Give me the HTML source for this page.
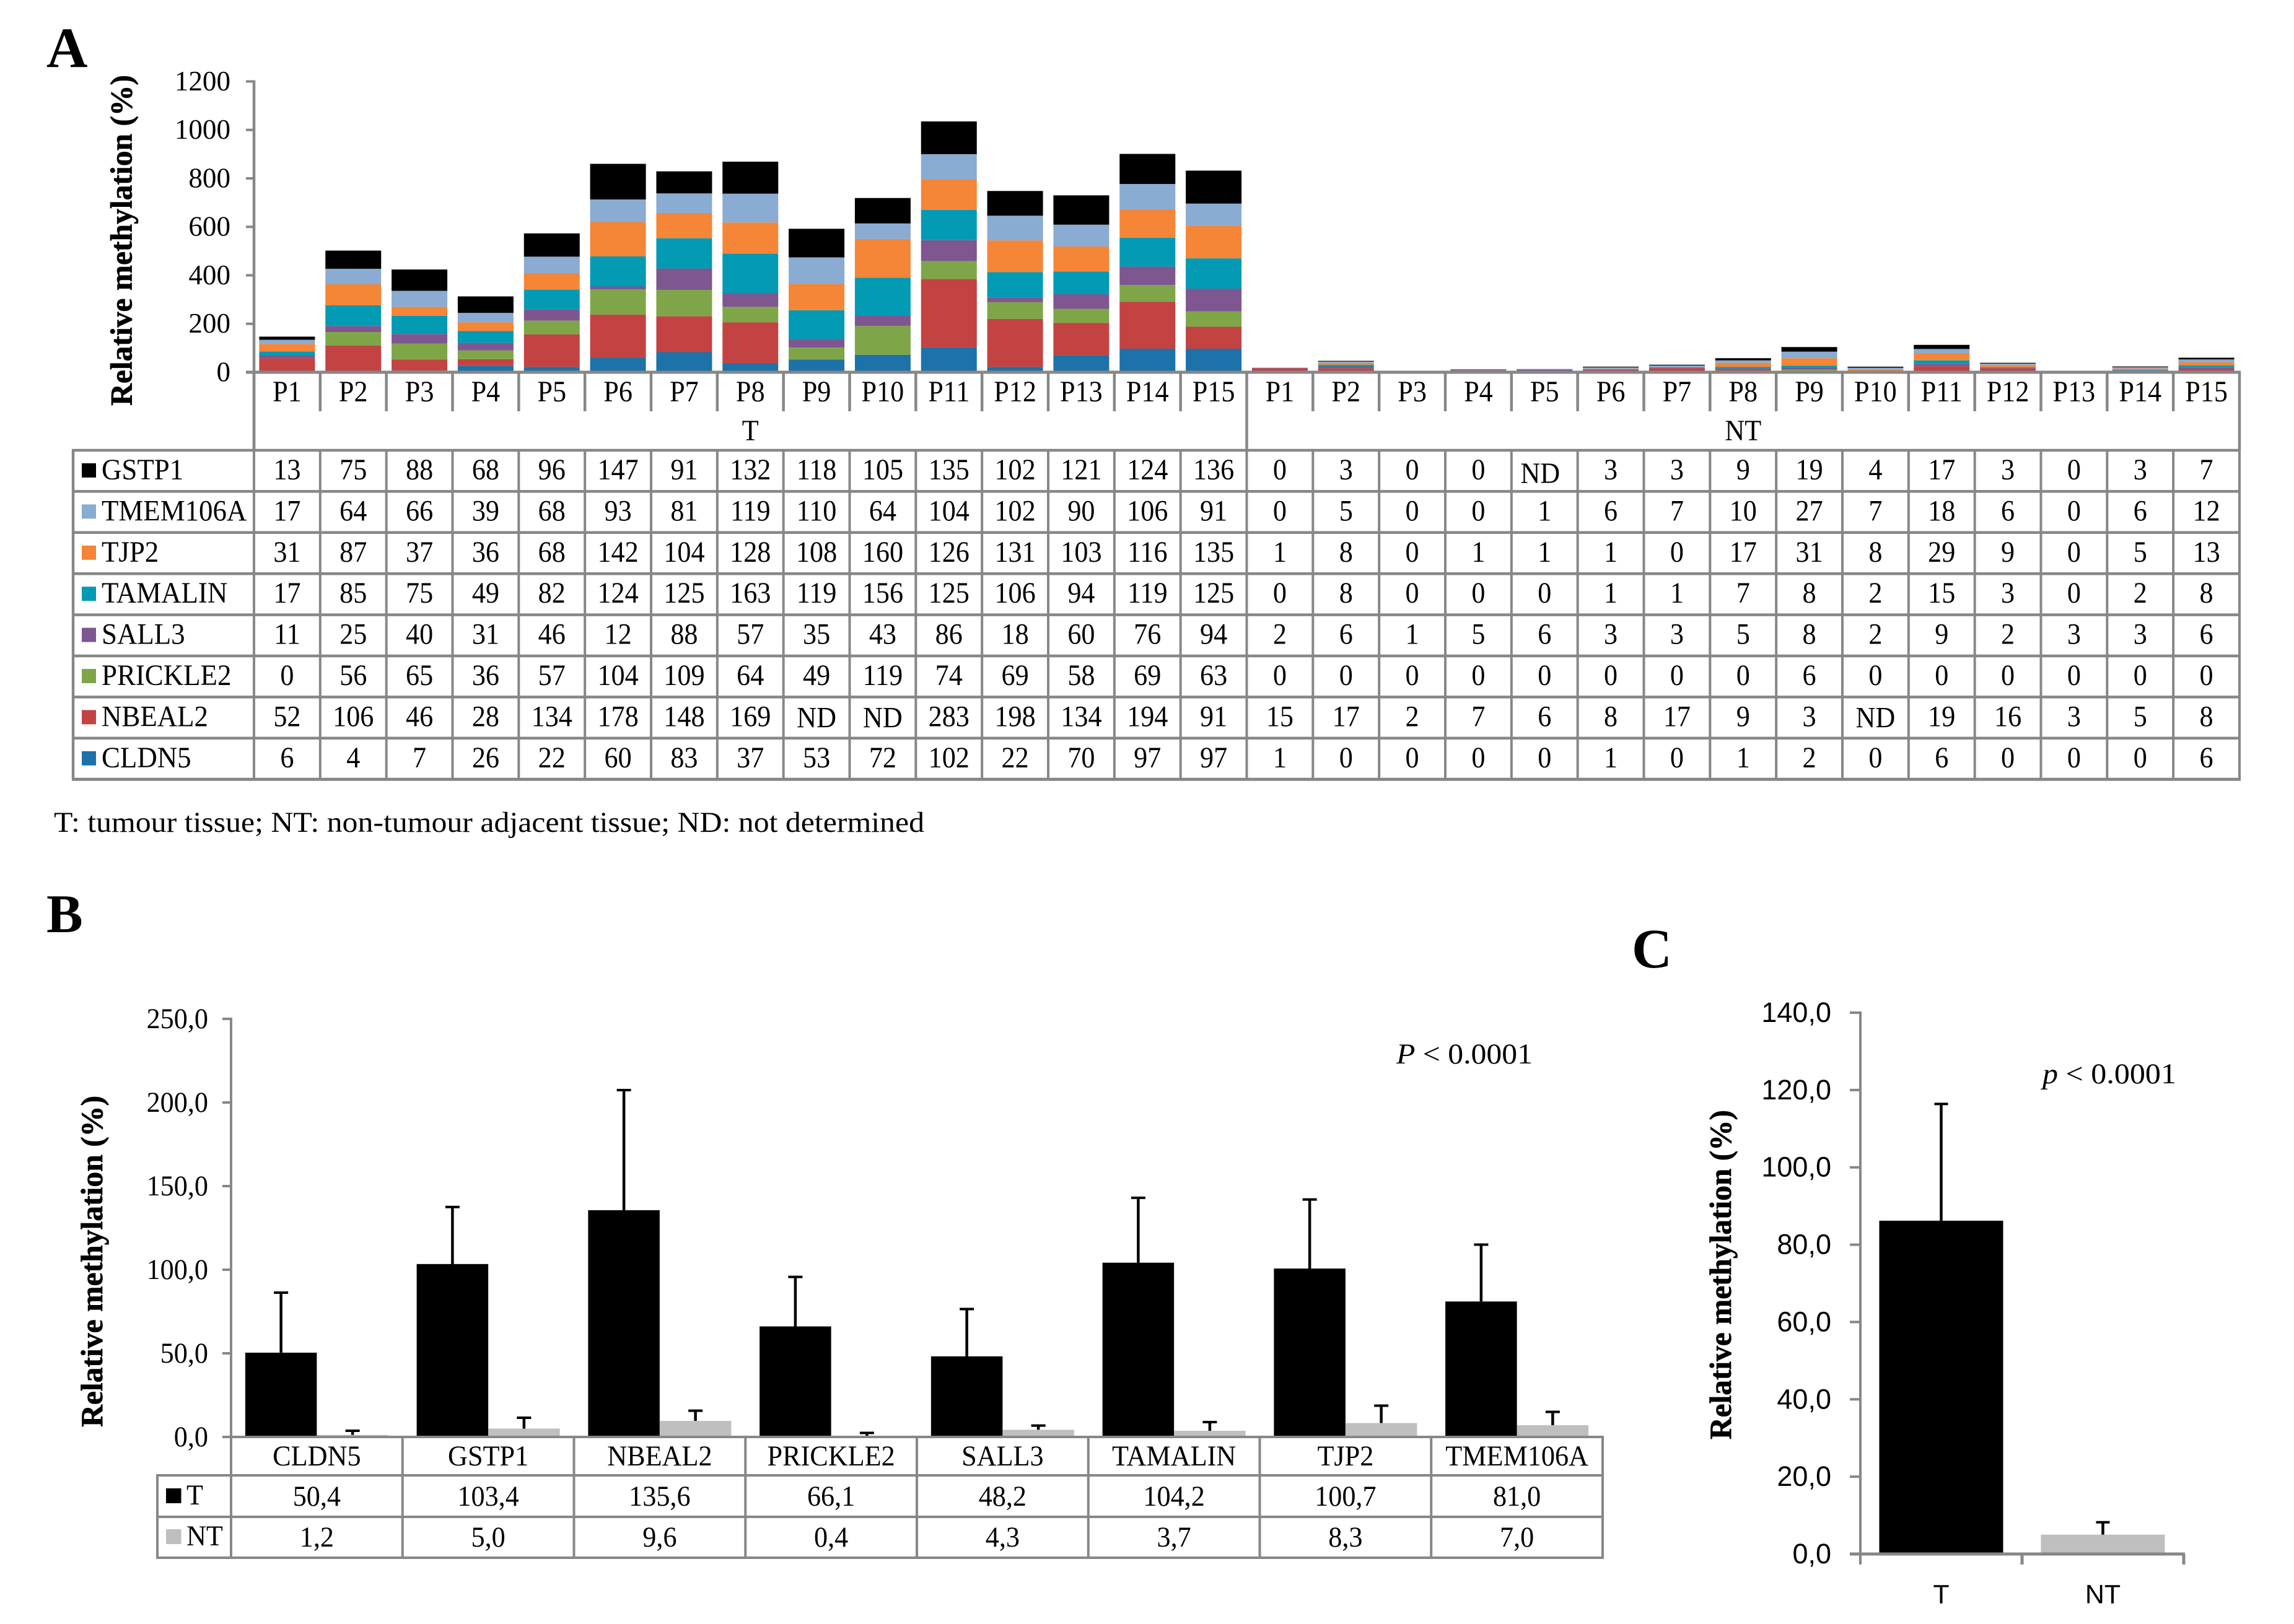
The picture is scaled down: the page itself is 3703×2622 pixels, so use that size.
<!DOCTYPE html>
<html lang="en">
<head>
<meta charset="utf-8">
<title>Relative methylation charts</title>
<style>
html,body{margin:0;padding:0;background:#fff;}
svg{display:block;}
text{font-family:"Liberation Serif",serif;fill:#000;}
.sans{font-family:"Liberation Sans",sans-serif;}
.title{stroke:#000;stroke-width:.7px;}
</style>
</head>
<body>
<svg id="figure" xmlns="http://www.w3.org/2000/svg" width="3703" height="2622" viewBox="0 0 3703 2622">
  <rect x="0" y="0" width="3703" height="2622" fill="#fff"/>
  <text x="75" y="108" font-size="92" font-weight="bold">A</text>
  <text x="75" y="1505" font-size="88" font-weight="bold">B</text>
  <text x="2634" y="1562" font-size="90" font-weight="bold">C</text>
  <text class="title" transform="translate(212.5,655) rotate(-90)" font-size="50" font-weight="bold" textLength="534" lengthAdjust="spacingAndGlyphs">Relative methylation (%)</text>
  <text class="title" transform="translate(165,2304) rotate(-90)" font-size="50" font-weight="bold" textLength="535" lengthAdjust="spacingAndGlyphs">Relative methylation (%)</text>
  <text class="title" transform="translate(2794,2324) rotate(-90)" font-size="50" font-weight="bold" textLength="532" lengthAdjust="spacingAndGlyphs">Relative methylation (%)</text>
  <text x="87" y="1343" font-size="47" textLength="1405" lengthAdjust="spacingAndGlyphs">T: tumour tissue; NT: non-tumour adjacent tissue; ND: not determined</text>
  <text x="2254" y="1717" font-size="47" textLength="220" lengthAdjust="spacingAndGlyphs"><tspan font-style="italic">P</tspan> &lt; 0.0001</text>
  <text x="3297" y="1749" font-size="47" textLength="216" lengthAdjust="spacingAndGlyphs"><tspan font-style="italic">p</tspan> &lt; 0.0001</text>
  <g id="panel-a"></g>
  <g id="panel-b"></g>
  <g id="panel-c"></g>
</svg>
<script>
// Panel A data (null = ND, not determined)
const patients = ['P1','P2','P3','P4','P5','P6','P7','P8','P9','P10','P11','P12','P13','P14','P15'];
const geneNames = ['GSTP1','TMEM106A','TJP2','TAMALIN','SALL3','PRICKLE2','NBEAL2','CLDN5'];
const geneColors = ['#000000','#8AABD2','#F58537','#039AB4','#7E5690','#7EA648','#C34343','#1C72A9'];
const gstp1Tumour = [13,75,88,68,96,147,91,132,118,105,135,102,121,124,136];
const gstp1Normal = [0,3,0,0,null,3,3,9,19,4,17,3,0,3,7];
const tmem106aTumour = [17,64,66,39,68,93,81,119,110,64,104,102,90,106,91];
const tmem106aNormal = [0,5,0,0,1,6,7,10,27,7,18,6,0,6,12];
const tjp2Tumour = [31,87,37,36,68,142,104,128,108,160,126,131,103,116,135];
const tjp2Normal = [1,8,0,1,1,1,0,17,31,8,29,9,0,5,13];
const tamalinTumour = [17,85,75,49,82,124,125,163,119,156,125,106,94,119,125];
const tamalinNormal = [0,8,0,0,0,1,1,7,8,2,15,3,0,2,8];
const sall3Tumour = [11,25,40,31,46,12,88,57,35,43,86,18,60,76,94];
const sall3Normal = [2,6,1,5,6,3,3,5,8,2,9,2,3,3,6];
const prickle2Tumour = [0,56,65,36,57,104,109,64,49,119,74,69,58,69,63];
const prickle2Normal = [0,0,0,0,0,0,0,0,6,0,0,0,0,0,0];
const nbeal2Tumour = [52,106,46,28,134,178,148,169,null,null,283,198,134,194,91];
const nbeal2Normal = [15,17,2,7,6,8,17,9,3,null,19,16,3,5,8];
const cldn5Tumour = [6,4,7,26,22,60,83,37,53,72,102,22,70,97,97];
const cldn5Normal = [1,0,0,0,0,1,0,1,2,0,6,0,0,0,6];
const panelATicks = [0,200,400,600,800,1000,1200];

// Panel B data
const panelBGenes = ['CLDN5','GSTP1','NBEAL2','PRICKLE2','SALL3','TAMALIN','TJP2','TMEM106A'];
const panelBTumour = [50.4,103.4,135.6,66.1,48.2,104.2,100.7,81.0];
const panelBNormal = [1.2,5.0,9.6,0.4,4.3,3.7,8.3,7.0];
const panelBTumourErr = [35.9,34.1,71.8,29.6,28.3,38.8,41.3,34.0];
const panelBNormalErr = [2.5,6.5,6.1,2.0,2.5,5.2,10.4,8.0];
const panelBTicks = [0,50,100,150,200,250];

// Panel C data
const panelCGroups = ['T','NT'];
const panelCMeans = [86.2,5.0];
const panelCErr = [30.2,3.2];
const panelCTicks = [0,20,40,60,80,100,120,140];

const NS = 'http://www.w3.org/2000/svg';
const AXIS = '#878787';
const GREY = '#BFBFBF';

function rect(parent, name, x, y, w, h, fill) {
  const el = document.createElementNS(NS, 'rect');
  
  
  el.setAttribute('x', x);
  el.setAttribute('y', y);
  el.setAttribute('width', w);
  el.setAttribute('height', h);
  el.setAttribute('fill', fill);
  parent.appendChild(el);
  return el;
}
function line(parent, name, x1, y1, x2, y2, width, color) {
  const el = document.createElementNS(NS, 'line');
  
  
  el.setAttribute('x1', x1);
  el.setAttribute('y1', y1);
  el.setAttribute('x2', x2);
  el.setAttribute('y2', y2);
  el.setAttribute('stroke', color);
  el.setAttribute('stroke-width', width);
  parent.appendChild(el);
  return el;
}
// sx narrows glyphs horizontally: the reference text is slightly condensed
function label(parent, name, x, y, str, anchor, size, sx, cls) {
  const el = document.createElementNS(NS, 'text');
  
  
  el.setAttribute('x', x / sx);
  el.setAttribute('y', y);
  el.setAttribute('transform', 'scale(' + sx + ',1)');
  el.setAttribute('text-anchor', anchor);
  el.setAttribute('font-size', size);
  if (cls) el.setAttribute('class', cls);
  el.textContent = str;
  parent.appendChild(el);
  return el;
}
const comma = v => v.toFixed(1).replace('.', ',');

/* ---------- Panel A ---------- */
(function () {
  const g = document.getElementById('panel-a');
  const left = 410, right = 3615, colW = (right - left) / 30;
  const y0 = 601, yTop = 131.5, axisMax = 1200;
  const yA = v => y0 - v * (y0 - yTop) / axisMax;
  const colX = i => left + i * colW;
  const tableTop = 727, rowH = 66.4, size = 48, sx = 0.92;
  const rows = [
    gstp1Tumour.concat(gstp1Normal),
    tmem106aTumour.concat(tmem106aNormal),
    tjp2Tumour.concat(tjp2Normal),
    tamalinTumour.concat(tamalinNormal),
    sall3Tumour.concat(sall3Normal),
    prickle2Tumour.concat(prickle2Normal),
    nbeal2Tumour.concat(nbeal2Normal),
    cldn5Tumour.concat(cldn5Normal)
  ];
  // stacked bars: bottom series is the last table row
  for (let c = 0; c < 30; c++) {
    let acc = 0;
    for (let r = rows.length - 1; r >= 0; r--) {
      const v = rows[r][c] || 0;
      if (v > 0) {
        rect(g, 'bar-' + geneNames[r].toLowerCase() + '-' + (c < 15 ? 't-' : 'nt-') + patients[c % 15].toLowerCase(),
          colX(c) + (colW - 90) / 2, yA(acc + v), 90, yA(acc) - yA(acc + v), geneColors[r]);
      }
      acc += v;
    }
  }
  // axis + ticks
  line(g, 'y-axis-line', left, yTop - 2, left, tableTop, 4.5, AXIS);
  panelATicks.forEach(t => {
    line(g, 'y-axis-tick', left - 13, yA(t), left, yA(t), t === 0 ? 5 : 4, AXIS);
    label(g, 'y-axis-tick-label', 372, yA(t) + 14.5, String(t), 'end', 46, 0.98);
  });
  line(g, 'x-axis-line', left - 13, y0, right + 2, y0, 5, AXIS);
  // patient header row
  for (let c = 0; c <= 30; c++) {
    const long = c === 15 || c === 30 || c === 0;
    line(g, 'patient-header-divider', colX(c), y0, colX(c), long ? tableTop : 664, 4.5, AXIS);
  }
  for (let c = 0; c < 30; c++) {
    label(g, 'patient-label', colX(c) + colW / 2, 648, patients[c % 15], 'middle', size, sx);
  }
  label(g, 'group-label-t', colX(7.5), 711, 'T', 'middle', size, sx);
  label(g, 'group-label-nt', colX(22.5), 711, 'NT', 'middle', size, sx);
  // data table
  for (let r = 0; r <= rows.length; r++) {
    line(g, 'table-row-line', 116, tableTop + r * rowH, right + 2, tableTop + r * rowH, r === rows.length ? 5 : 4.5, AXIS);
  }
  line(g, 'table-left-border', 118, tableTop, 118, tableTop + 8 * rowH, 4.5, AXIS);
  for (let c = 0; c <= 30; c++) {
    line(g, 'table-column-line', colX(c), tableTop, colX(c), tableTop + 8 * rowH, 4, AXIS);
  }
  rows.forEach((vals, r) => {
    const top = tableTop + r * rowH;
    rect(g, 'legend-swatch-' + geneNames[r].toLowerCase(), 132, top + 21, 23, 23, geneColors[r]);
    label(g, 'legend-entry-' + geneNames[r].toLowerCase(), 164, top + 47, geneNames[r], 'start', size, 0.935);
    vals.forEach((v, c) => {
      const isNd = v === null;
      const shift = isNd ? (r === 0 ? 6 : 2) : 0;
      const dx = isNd && r === 0 ? -7 : 0;
      label(g, 'table-value', colX(c) + colW / 2 + dx, top + 47 + shift, isNd ? 'ND' : String(v), 'middle', size, sx);
    });
  });
})();

/* ---------- Panel B ---------- */
(function () {
  const g = document.getElementById('panel-b');
  const left = 373, step = 276.75, barW = 115.5;
  const y0 = 2320, yTop = 1645, axisMax = 250;
  const yB = v => y0 - v * (y0 - yTop) / axisMax;
  const catX = i => left + i * step;
  const size = 47, sx = 0.94;
  const errorBar = (name, cx, mean, err, capW) => {
    line(g, name, cx, yB(mean), cx, yB(mean + err), 4.5, '#000');
    line(g, name + '-cap', cx - capW / 2, yB(mean + err), cx + capW / 2, yB(mean + err), 4, '#000');
  };
  panelBGenes.forEach((gene, i) => {
    const mid = catX(i) + step / 2;
    const key = gene.toLowerCase();
    errorBar('error-bar-t-' + key, mid - barW / 2, panelBTumour[i], panelBTumourErr[i], 23);
    errorBar('error-bar-nt-' + key, mid + barW / 2, panelBNormal[i], panelBNormalErr[i], 23);
    rect(g, 'bar-t-' + key, mid - barW, yB(panelBTumour[i]), barW, y0 - yB(panelBTumour[i]), '#000');
    rect(g, 'bar-nt-' + key, mid, yB(panelBNormal[i]), barW, y0 - yB(panelBNormal[i]), GREY);
    label(g, 'category-label', mid, 2366, gene, 'middle', size, sx);
    label(g, 'value-t', mid, 2431, comma(panelBTumour[i]), 'middle', size, sx);
    label(g, 'value-nt', mid, 2497, comma(panelBNormal[i]), 'middle', size, sx);
  });
  line(g, 'y-axis-line', left, yTop - 2, left, 2517, 4, AXIS);
  panelBTicks.forEach(t => {
    line(g, 'y-axis-tick', left - 14, yB(t), left, yB(t), 4, AXIS);
    label(g, 'y-axis-tick-label', 336, yB(t) + 15, comma(t), 'end', size, 0.94);
  });
  line(g, 'x-axis-line', left, y0, catX(8) + 2, y0, 4, AXIS);
  [2382, 2449, 2515].forEach(y => {
    line(g, 'table-row-line', 252, y, catX(8) + 2, y, 4, AXIS);
  });
  line(g, 'table-left-border', 254, 2382, 254, 2517, 4, AXIS);
  for (let i = 1; i <= 8; i++) {
    line(g, 'table-column-line', catX(i), y0, catX(i), 2517, 4, AXIS);
  }
  rect(g, 'legend-swatch-t', 268, 2403, 24.5, 24, '#000');
  label(g, 'legend-entry-t', 301, 2429, 'T', 'start', size, sx);
  rect(g, 'legend-swatch-nt', 268, 2469, 24.5, 24, GREY);
  label(g, 'legend-entry-nt', 301, 2495, 'NT', 'start', size, sx);
})();

/* ---------- Panel C ---------- */
(function () {
  const g = document.getElementById('panel-c');
  const left = 3003, right = 3525, barW = 200;
  const y0 = 2509, yTop = 1635, axisMax = 140;
  const yC = v => y0 - v * (y0 - yTop) / axisMax;
  const step = (right - left) / panelCGroups.length;
  panelCGroups.forEach((grp, i) => {
    const mid = left + step * i + step / 2;
    const key = grp.toLowerCase();
    line(g, 'error-bar-' + key, mid, yC(panelCMeans[i]), mid, yC(panelCMeans[i] + panelCErr[i]), 4.5, '#000');
    line(g, 'error-bar-cap-' + key, mid - 11, yC(panelCMeans[i] + panelCErr[i]), mid + 11, yC(panelCMeans[i] + panelCErr[i]), 4, '#000');
    rect(g, 'bar-' + key, mid - barW / 2, yC(panelCMeans[i]), barW, y0 - yC(panelCMeans[i]), i === 0 ? '#000' : GREY);
    label(g, 'x-axis-label', mid, 2588.5, grp, 'middle', 43, 1, 'sans');
  });
  line(g, 'y-axis-line', left, yTop - 2, left, 2526, 4, AXIS);
  panelCTicks.forEach(t => {
    line(g, 'y-axis-tick', left - 17, yC(t), left, yC(t), t === 0 ? 5 : 4, AXIS);
    label(g, 'y-axis-tick-label', 2956, yC(t) + 15, comma(t), 'end', 45, 1, 'sans');
  });
  line(g, 'x-axis-line', left, y0, right + 2, y0, 5, AXIS);
  line(g, 'x-axis-tick', left + step, y0, left + step, 2526, 5, AXIS);
  line(g, 'x-axis-tick', right, y0, right, 2526, 5, AXIS);
})();
</script>
</body>
</html>
